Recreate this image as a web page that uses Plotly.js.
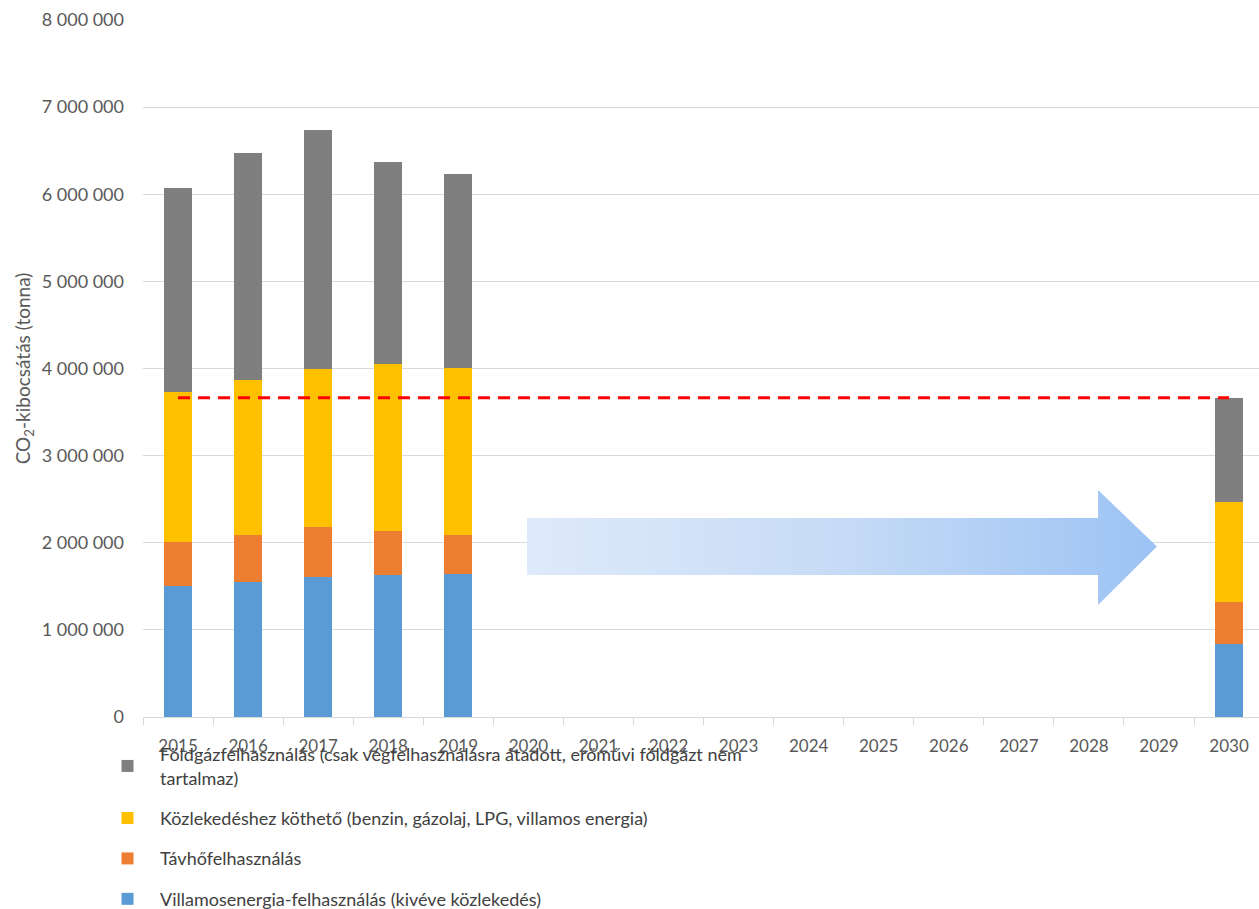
<!DOCTYPE html>
<html>
<head>
<meta charset="utf-8">
<script src="https://cdn.plot.ly/plotly-3.0.1.min.js"></script>
<style>html,body{margin:0;padding:0;background:#fff;}#chart{width:1259px;height:909px;}</style>
</head>
<body>
<div id="chart"></div>
<script>
// ---- data ----
const years = [2015, 2016, 2017, 2018, 2019, 2030];
const axisYears = [2015, 2016, 2017, 2018, 2019, 2020, 2021, 2022, 2023, 2024, 2025, 2026, 2027, 2028, 2029, 2030];
const villamos = [1507000, 1545000, 1607000, 1626000, 1645000, 838000];
const tavho    = [505000, 544000, 570000, 505000, 444000, 485000];
const kozlekedes = [1715000, 1779000, 1813000, 1917000, 1920000, 1148000];
const foldgaz  = [2341000, 2602000, 2744000, 2319000, 2220000, 1194000];
const targetYears = [2015, 2030];
const targetValues = [3665000, 3665000];
// decorative arrow outline (year, tonnes)
const arrowX = [2019.98, 2028.13, 2028.13, 2028.97, 2028.13, 2028.13, 2019.98, 2019.98];
const arrowY = [2284000, 2284000, 2605000, 1957000, 1286000, 1630000, 1630000, 2284000];

const names = {
  villamos: 'Villamosenergia-felhasználás (kivéve közlekedés)',
  tavho: 'Távhőfelhasználás',
  kozlekedes: 'Közlekedéshez köthető (benzin, gázolaj, LPG, villamos energia)',
  foldgaz: 'Földgázfelhasználás (csak végfelhasználásra átadott, erőművi földgázt nem<br>tartalmaz)'
};
const colors = {villamos: '#5b9bd5', tavho: '#ed7d31', kozlekedes: '#ffc000', foldgaz: '#7f7f7f'};
const ranks = {foldgaz: 1, kozlekedes: 2, tavho: 3, villamos: 4};

function barTrace(key, vals) {
  return {type: 'bar', x: years, y: vals, name: names[key], legendgroup: key, legendrank: ranks[key],
    marker: {color: colors[key], line: {width: 0}}, hoverinfo: 'y'};
}

const data = [
  {type: 'scatter', x: arrowX, y: arrowY, mode: 'lines', fill: 'toself',
   line: {width: 0, color: 'rgba(0,0,0,0)'},
   fillgradient: {type: 'horizontal', colorscale: [[0, '#dfeafa'], [0.5, '#c6dbf6'], [1, '#9cc3f4']]},
   showlegend: false, hoverinfo: 'skip'},
  barTrace('villamos', villamos),
  barTrace('tavho', tavho),
  barTrace('kozlekedes', kozlekedes),
  barTrace('foldgaz', foldgaz),
  {type: 'scatter', mode: 'lines', x: targetYears, y: targetValues, showlegend: false,
   line: {color: '#ff0000', width: 3, dash: '12px,8px'}, hoverinfo: 'skip'}
];

const layout = {
  width: 1259, height: 909,
  margin: {l: 143, r: 0, t: 20, b: 192, autoexpand: false},
  paper_bgcolor: '#fff', plot_bgcolor: '#fff',
  font: {family: 'Lato, sans-serif', color: '#595959', size: 17},
  separators: ', ',
  barmode: 'stack',
  bargap: 0.6,
  showlegend: true,
  legend: {
    x: -0.043, xanchor: 'left', y: -0.0273, yanchor: 'top',
    traceorder: 'grouped', tracegroupgap: 14,
    font: {size: 18, color: '#404040', family: 'Lato, sans-serif'},
    bgcolor: 'rgba(0,0,0,0)', itemwidth: 55
  },
  xaxis: {
    type: 'linear', range: [2014.5, 2030.427],
    tickmode: 'array', tickvals: axisYears, ticktext: axisYears.map(String),
    ticks: '', ticklabelstandoff: 14,
    showgrid: false, zeroline: false,
    showline: true, linecolor: '#d9d9d9', linewidth: 1,
    tickfont: {size: 17, color: '#595959'},
    minor: {ticks: 'outside', ticklen: 7, tick0: 2014.5, dtick: 1, tickcolor: '#d9d9d9', showgrid: false}
  },
  yaxis: {
    range: [0, 8000000], dtick: 1000000, tickformat: ',d',
    showgrid: true, gridcolor: '#d9d9d9', gridwidth: 1,
    zeroline: false, showline: false, ticks: '', ticklabelstandoff: 18,
    tickfont: {size: 18, color: '#595959'},
    title: {text: 'CO<sub>2</sub>-kibocsátás (tonna)', font: {size: 19, color: '#595959'}, standoff: 6}
  }
};

Plotly.newPlot('chart', data, layout, {displayModeBar: false, staticPlot: true});
</script>
</body>
</html>
